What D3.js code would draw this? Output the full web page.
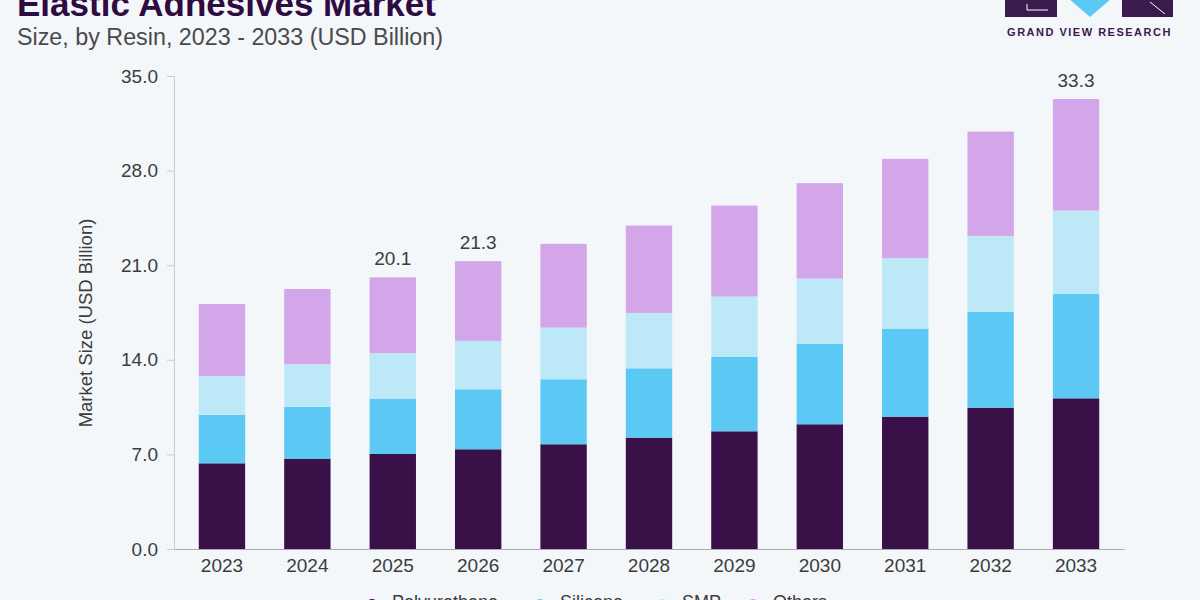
<!DOCTYPE html>
<html>
<head>
<meta charset="utf-8">
<script src="https://cdn.jsdelivr.net/npm/d3@7/dist/d3.min.js"></script>
<style>
html,body{margin:0;padding:0;background:#f3f7fa;}
svg{display:block;font-family:"Liberation Sans",Arial,sans-serif;}
</style>
</head>
<body>
<svg id="chart" width="1200" height="600"></svg>
<script>
const years = ["2023","2024","2025","2026","2027","2028","2029","2030","2031","2032","2033"];
const seriesNames = ["Polyurethane","Silicone","SMP","Others"];
const polyurethane = [6.34, 6.66, 7.03, 7.38, 7.75, 8.24, 8.71, 9.23, 9.79, 10.46, 11.15];
const silicone     = [3.58, 3.87, 4.10, 4.44, 4.81, 5.13, 5.52, 5.97, 6.52, 7.10, 7.72];
const smp          = [2.88, 3.14, 3.36, 3.58, 3.82, 4.10, 4.45, 4.81, 5.21, 5.61, 6.17];
const others       = [5.33, 5.57, 5.61, 5.90, 6.20, 6.46, 6.73, 7.06, 7.35, 7.72, 8.26];
const labeledYears = ["2025","2026","2033"];
const yTicks = [0, 7, 14, 21, 28, 35];
const colors = ["#3a1048", "#5bc9f4", "#bde8f8", "#d2a6e9"];

const svg = d3.select("#chart");
const table = years.map((y, i) => ({
  year: y,
  Polyurethane: polyurethane[i],
  Silicone: silicone[i],
  SMP: smp[i],
  Others: others[i]
}));
const stacked = d3.stack().keys(seriesNames)(table);

const x = d3.scaleBand().domain(years).range([174, 1124]).paddingInner(0.457).paddingOuter(0.29);
const y = d3.scaleLinear().domain([0, 35]).range([549, 76]);
const color = d3.scaleOrdinal().domain(seriesNames).range(colors);

// Title
svg.append("text").attr("x", 17).attr("y", 16)
  .attr("font-size", 35).attr("font-weight", 900).attr("fill", "#2e0b40")
  .text("Elastic Adhesives Market");
svg.append("text").attr("x", 17).attr("y", 45)
  .attr("font-size", 23.3).attr("fill", "#4a4a4a")
  .text("Size, by Resin, 2023 - 2033 (USD Billion)");

// Logo
const logo = svg.append("g");
logo.append("rect").attr("x", 1005).attr("y", -2).attr("width", 52).attr("height", 19).attr("fill", "#3b1a4e");
logo.append("rect").attr("x", 1122).attr("y", -2).attr("width", 51).attr("height", 19).attr("fill", "#3b1a4e");
logo.append("path").attr("d", "M1068,-2 L1112,-2 L1090,17 Z").attr("fill", "#5bc9f4");
logo.append("path").attr("d", "M1027,4 L1027,10 L1048,10").attr("stroke", "#ffffff").attr("stroke-width", 1).attr("fill", "none");
logo.append("path").attr("d", "M1150,2 L1165,14").attr("stroke", "#ffffff").attr("stroke-width", 1).attr("fill", "none");
logo.append("text").attr("x", 1089.5).attr("y", 36).attr("text-anchor", "middle")
  .attr("font-size", 11).attr("font-weight", 700).attr("letter-spacing", 1.5).attr("fill", "#3b1a4e")
  .text("GRAND VIEW RESEARCH");

// Bars
svg.append("g").selectAll("g").data(stacked).join("g")
  .attr("fill", d => color(d.key))
  .selectAll("rect").data(d => d).join("rect")
  .attr("x", d => x(d.data.year))
  .attr("width", x.bandwidth())
  .attr("y", d => y(d[1]))
  .attr("height", d => y(d[0]) - y(d[1]));

// Y axis
const yAxis = svg.append("g").attr("transform", "translate(174,0)")
  .call(d3.axisLeft(y).tickValues(yTicks).tickFormat(d3.format(".1f")).tickSize(7).tickPadding(9).tickSizeOuter(0));
yAxis.select(".domain").attr("stroke", "#c9ccd0");
yAxis.selectAll(".tick line").attr("stroke", "#c9ccd0");
yAxis.selectAll(".tick text").attr("font-size", 19).attr("fill", "#3c3c3c").attr("font-family", "'Liberation Sans',Arial,sans-serif");

// X axis
const xAxis = svg.append("g").attr("transform", "translate(0,549)")
  .call(d3.axisBottom(x).tickSize(0).tickPadding(10));
xAxis.select(".domain").attr("stroke", "#a9adb2");
xAxis.selectAll(".tick text").attr("font-size", 19).attr("fill", "#3c3c3c").attr("font-family", "'Liberation Sans',Arial,sans-serif");

// Axis title
svg.append("text")
  .attr("transform", "translate(92,323) rotate(-90)")
  .attr("text-anchor", "middle").attr("font-size", 18.5).attr("fill", "#3c3c3c")
  .text("Market Size (USD Billion)");

// Total labels
const totals = stacked[stacked.length - 1];
svg.append("g").selectAll("text")
  .data(totals.filter(d => labeledYears.includes(d.data.year)))
  .join("text")
  .attr("x", d => x(d.data.year) + x.bandwidth() / 2)
  .attr("y", d => y(d[1]) - 12)
  .attr("text-anchor", "middle").attr("font-size", 19).attr("fill", "#3c3c3c")
  .text(d => d3.format(".1f")(d[1]));

// Legend
const legendX = [372, 540, 662, 753];
const legend = svg.append("g").selectAll("g").data(seriesNames).join("g")
  .attr("transform", (d, i) => `translate(${legendX[i]},605)`);
legend.append("circle").attr("r", 6).attr("fill", d => color(d));
legend.append("text").attr("x", 20).attr("y", 3).attr("font-size", 18).attr("fill", "#3c3c3c")
  .text(d => d);
</script>
</body>
</html>
